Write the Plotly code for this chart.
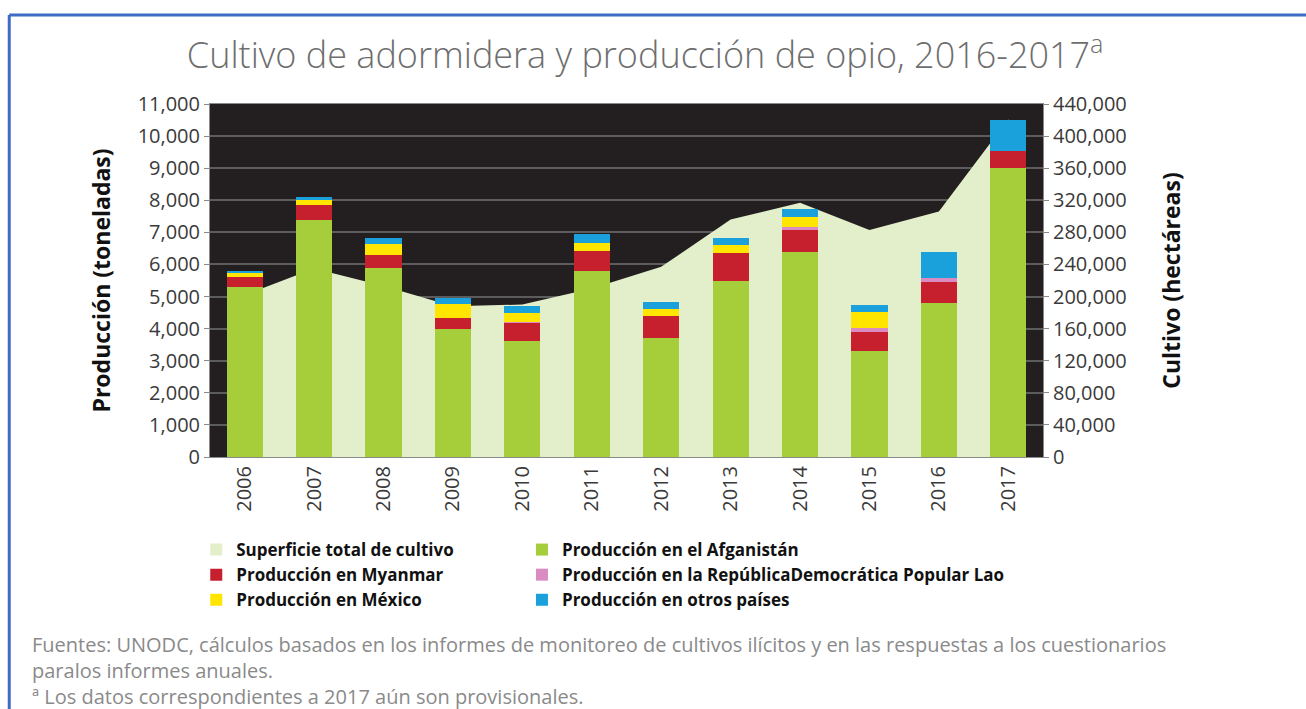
import plotly.graph_objects as go

years = ["2006", "2007", "2008", "2009", "2010", "2011", "2012", "2013", "2014", "2015", "2016", "2017"]
area_total = [202000, 235000, 213000, 188000, 190000, 210000, 237000, 296000, 317000, 283000, 306000, 421000]
afganistan = [5300, 7400, 5900, 4000, 3600, 5800, 3700, 5500, 6400, 3300, 4800, 9000]
myanmar = [315, 450, 400, 330, 580, 610, 690, 870, 670, 600, 650, 550]
laos = [0, 0, 0, 0, 18, 0, 0, 0, 90, 120, 120, 0]
mexico = [110, 150, 325, 425, 300, 250, 230, 240, 330, 500, 0, 0]
otros = [80, 100, 200, 185, 200, 300, 200, 230, 240, 230, 810, 950]

left_ticks = list(range(0, 11001, 1000))
right_ticks = list(range(0, 440001, 40000))

names = {
    "area": "Superficie total de cultivo",
    "afg": "Producción en el Afganistán",
    "mya": "Producción en Myanmar",
    "lao": "Producción en la RepúblicaDemocrática Popular Lao",
    "mex": "Producción en México",
    "otr": "Producción en otros países",
}
colors = {
    "area": "#e3efcb",
    "afg": "#a6cd3a",
    "mya": "#c6202f",
    "lao": "#d98bc2",
    "mex": "#ffe500",
    "otr": "#1aa0db",
}
legend_of = {"afg": "legend2", "mya": "legend", "lao": "legend2",
             "mex": "legend", "otr": "legend2"}

fig = go.Figure()
# area (total cultivated surface) on the right-hand axis, drawn beneath the bars
fig.add_trace(go.Scatter(
    x=years, y=area_total, name=names["area"], mode="lines",
    line=dict(width=0, color=colors["area"]), fill="tozeroy",
    fillcolor=colors["area"], yaxis="y", showlegend=False, hoverinfo="skip"))
# legend entry (square swatch) for the area series
fig.add_trace(go.Bar(x=years, y=[None] * len(years), name=names["area"],
                     marker=dict(color=colors["area"], line=dict(width=0)),
                     yaxis="y2", legend="legend", showlegend=True, hoverinfo="skip"))

for key, vals in [("afg", afganistan), ("mya", myanmar), ("lao", laos),
                  ("mex", mexico), ("otr", otros)]:
    fig.add_trace(go.Bar(x=years, y=vals, name=names[key],
                         marker=dict(color=colors[key], line=dict(width=0)),
                         yaxis="y2", legend=legend_of[key]))

FONT = "Open Sans, DejaVu Sans, sans-serif"
tick_font = dict(family=FONT, size=20, color="#3a3a3a")
axis_title_font = dict(family=FONT, size=23, color="#111111", weight="bold")
legend_font = dict(family=FONT, size=17, color="#111111", weight="bold")

fig.update_layout(
    width=1306, height=709,
    margin=dict(l=210, r=263, t=104, b=252),
    paper_bgcolor="white",
    plot_bgcolor="#231f20",
    barmode="stack",
    bargap=0.48,
    showlegend=True,
    title=dict(
        text="Cultivo de adormidera y producción de opio, 2016-2017<sup>a</sup>",
        x=0.494, xanchor="center", xref="container",
        y=0.922, yanchor="middle", yref="container",
        font=dict(family=FONT, size=36, color="#6e6e6e", weight=300),
    ),
    xaxis=dict(
        type="category", tickangle=-90, tickfont=tick_font,
        showgrid=False, showline=True, mirror=True, linecolor="#8a8a8a", linewidth=1,
        ticks="", zeroline=False,
    ),
    yaxis=dict(
        side="right", range=[0, 440000], tickvals=right_ticks, tickformat=",d",
        tickfont=tick_font, showgrid=True, gridcolor="#5c5c5c", gridwidth=1.5,
        zeroline=False, ticks="outside", ticklen=5, tickcolor="#8a8a8a",
        showline=True, linecolor="#8a8a8a", linewidth=1,
        title=dict(text="Cultivo (hectáreas)", font=axis_title_font, standoff=38),
    ),
    yaxis2=dict(
        side="left", overlaying="y", range=[0, 11000], tickvals=left_ticks,
        tickformat=",d", tickfont=tick_font, showgrid=False, zeroline=False,
        ticks="outside", ticklen=5, tickcolor="#8a8a8a",
        showline=True, linecolor="#8a8a8a", linewidth=1,
        title=dict(text="Producción (toneladas)", font=axis_title_font, standoff=20),
    ),
    legend=dict(
        orientation="v", x=-0.0165, xanchor="left", y=-0.2125, yanchor="top",
        traceorder="normal", font=legend_font, itemwidth=30,
        bgcolor="rgba(0,0,0,0)",
    ),
    legend2=dict(
        orientation="v", x=0.3745, xanchor="left", y=-0.2125, yanchor="top",
        traceorder="normal", font=legend_font, itemwidth=30,
        bgcolor="rgba(0,0,0,0)",
    ),
)

foot_font = dict(family=FONT, size=20, color="#8a8a8a")
fig.add_annotation(
    text=("Fuentes: UNODC, cálculos basados en los informes de monitoreo de cultivos "
          "ilícitos y en las respuestas a los cuestionarios<br>paralos informes anuales."
          "<br>ª Los datos correspondientes a 2017 aún son provisionales."),
    xref="paper", yref="paper", x=-0.216, y=(457 - 629) / 353,
    xanchor="left", yanchor="top", align="left", showarrow=False, font=foot_font)

# blue frame around the graphic (top and left edges)
fig.add_shape(type="line", xref="paper", yref="paper",
              x0=-0.241, x1=1.32, y0=1.252, y1=1.252,
              line=dict(color="#3f6cc4", width=3))
fig.add_shape(type="line", xref="paper", yref="paper",
              x0=-0.241, x1=-0.241, y0=1.252, y1=-0.72,
              line=dict(color="#3f6cc4", width=3))

fig.write_html("out.html")
